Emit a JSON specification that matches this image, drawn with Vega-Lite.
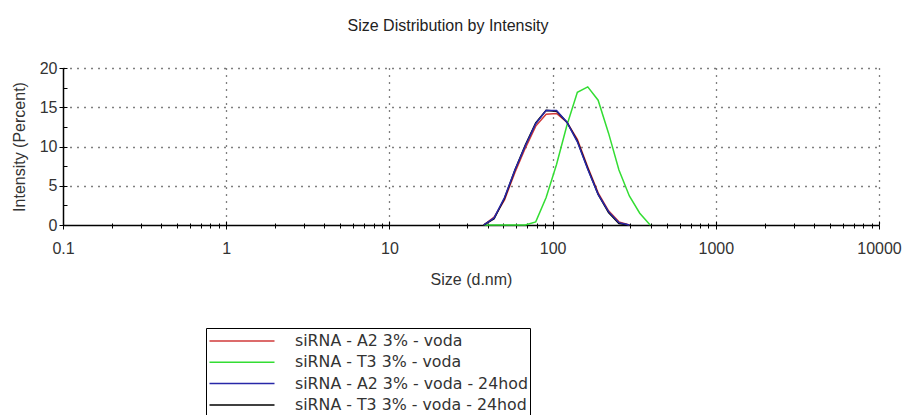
{
  "$schema": "https://vega.github.io/schema/vega-lite/v6.json",
  "autosize": "none",
  "width": 816,
  "height": 157,
  "padding": {"left": 63, "top": 68, "right": 25, "bottom": 190},
  "background": "white",
  "title": {
    "text": "Size Distribution by Intensity",
    "font": "Liberation Sans",
    "fontSize": 16,
    "fontWeight": "normal",
    "color": "#222",
    "anchor": "middle",
    "dx": -23,
    "offset": 13.5,
    "baseline": "alphabetic"
  },
  "config": {
    "view": {"stroke": null},
    "axis": {"labelFont": "Liberation Sans", "titleFont": "Liberation Sans", "labelColor": "#333", "titleColor": "#333", "labelFontSize": 16, "titleFontSize": 16, "titleFontWeight": "normal", "tickColor": "#000", "domainColor": "#000"}
  },
  "data": {
    "values": [
      {"series": "siRNA - A2 3% - voda", "size": 37.84, "pct": 0},
      {"series": "siRNA - A2 3% - voda", "size": 43.82, "pct": 1.0},
      {"series": "siRNA - A2 3% - voda", "size": 50.75, "pct": 3.2},
      {"series": "siRNA - A2 3% - voda", "size": 58.77, "pct": 6.7},
      {"series": "siRNA - A2 3% - voda", "size": 68.06, "pct": 9.8},
      {"series": "siRNA - A2 3% - voda", "size": 78.82, "pct": 12.6},
      {"series": "siRNA - A2 3% - voda", "size": 91.28, "pct": 14.1},
      {"series": "siRNA - A2 3% - voda", "size": 105.7, "pct": 14.2},
      {"series": "siRNA - A2 3% - voda", "size": 122.4, "pct": 13.1},
      {"series": "siRNA - A2 3% - voda", "size": 141.8, "pct": 10.9},
      {"series": "siRNA - A2 3% - voda", "size": 164.2, "pct": 7.4},
      {"series": "siRNA - A2 3% - voda", "size": 190.1, "pct": 4.1},
      {"series": "siRNA - A2 3% - voda", "size": 220.2, "pct": 1.8},
      {"series": "siRNA - A2 3% - voda", "size": 255.0, "pct": 0.4},
      {"series": "siRNA - A2 3% - voda", "size": 295.3, "pct": 0},
      {"series": "siRNA - T3 3% - voda", "size": 37.84, "pct": 0},
      {"series": "siRNA - T3 3% - voda", "size": 43.82, "pct": 0},
      {"series": "siRNA - T3 3% - voda", "size": 50.75, "pct": 0},
      {"series": "siRNA - T3 3% - voda", "size": 58.77, "pct": 0},
      {"series": "siRNA - T3 3% - voda", "size": 68.06, "pct": 0},
      {"series": "siRNA - T3 3% - voda", "size": 78.82, "pct": 0.4},
      {"series": "siRNA - T3 3% - voda", "size": 91.28, "pct": 3.5},
      {"series": "siRNA - T3 3% - voda", "size": 105.7, "pct": 7.7},
      {"series": "siRNA - T3 3% - voda", "size": 122.4, "pct": 12.7},
      {"series": "siRNA - T3 3% - voda", "size": 141.8, "pct": 16.9},
      {"series": "siRNA - T3 3% - voda", "size": 164.2, "pct": 17.6},
      {"series": "siRNA - T3 3% - voda", "size": 190.1, "pct": 15.9},
      {"series": "siRNA - T3 3% - voda", "size": 220.2, "pct": 11.7},
      {"series": "siRNA - T3 3% - voda", "size": 255.0, "pct": 7.0},
      {"series": "siRNA - T3 3% - voda", "size": 295.3, "pct": 3.7},
      {"series": "siRNA - T3 3% - voda", "size": 342.0, "pct": 1.5},
      {"series": "siRNA - T3 3% - voda", "size": 396.1, "pct": 0},
      {"series": "siRNA - T3 3% - voda - 24hod", "size": 37.84, "pct": 0},
      {"series": "siRNA - T3 3% - voda - 24hod", "size": 43.82, "pct": 0.8},
      {"series": "siRNA - T3 3% - voda - 24hod", "size": 50.75, "pct": 3.4},
      {"series": "siRNA - T3 3% - voda - 24hod", "size": 58.77, "pct": 7.0},
      {"series": "siRNA - T3 3% - voda - 24hod", "size": 68.06, "pct": 10.2},
      {"series": "siRNA - T3 3% - voda - 24hod", "size": 78.82, "pct": 13.0},
      {"series": "siRNA - T3 3% - voda - 24hod", "size": 91.28, "pct": 14.6},
      {"series": "siRNA - T3 3% - voda - 24hod", "size": 105.7, "pct": 14.5},
      {"series": "siRNA - T3 3% - voda - 24hod", "size": 122.4, "pct": 13.1},
      {"series": "siRNA - T3 3% - voda - 24hod", "size": 141.8, "pct": 10.7},
      {"series": "siRNA - T3 3% - voda - 24hod", "size": 164.2, "pct": 7.2},
      {"series": "siRNA - T3 3% - voda - 24hod", "size": 190.1, "pct": 3.9},
      {"series": "siRNA - T3 3% - voda - 24hod", "size": 220.2, "pct": 1.6},
      {"series": "siRNA - T3 3% - voda - 24hod", "size": 255.0, "pct": 0.2},
      {"series": "siRNA - T3 3% - voda - 24hod", "size": 295.3, "pct": 0},
      {"series": "siRNA - A2 3% - voda - 24hod", "size": 37.84, "pct": 0},
      {"series": "siRNA - A2 3% - voda - 24hod", "size": 43.82, "pct": 0.9},
      {"series": "siRNA - A2 3% - voda - 24hod", "size": 50.75, "pct": 3.5},
      {"series": "siRNA - A2 3% - voda - 24hod", "size": 58.77, "pct": 7.0},
      {"series": "siRNA - A2 3% - voda - 24hod", "size": 68.06, "pct": 10.1},
      {"series": "siRNA - A2 3% - voda - 24hod", "size": 78.82, "pct": 12.9},
      {"series": "siRNA - A2 3% - voda - 24hod", "size": 91.28, "pct": 14.6},
      {"series": "siRNA - A2 3% - voda - 24hod", "size": 105.7, "pct": 14.6},
      {"series": "siRNA - A2 3% - voda - 24hod", "size": 122.4, "pct": 13.1},
      {"series": "siRNA - A2 3% - voda - 24hod", "size": 141.8, "pct": 10.6},
      {"series": "siRNA - A2 3% - voda - 24hod", "size": 164.2, "pct": 7.1},
      {"series": "siRNA - A2 3% - voda - 24hod", "size": 190.1, "pct": 3.9},
      {"series": "siRNA - A2 3% - voda - 24hod", "size": 220.2, "pct": 1.7},
      {"series": "siRNA - A2 3% - voda - 24hod", "size": 255.0, "pct": 0.3},
      {"series": "siRNA - A2 3% - voda - 24hod", "size": 295.3, "pct": 0}
    ]
  },
  "resolve": {"axis": {"x": "independent", "y": "independent"}},
  "layer": [
    {
      "mark": {"type": "line", "strokeWidth": 1.5, "interpolate": "linear"},
      "encoding": {
        "x": {
          "field": "size", "type": "quantitative",
          "scale": {"type": "log", "domain": [0.1, 10000], "nice": false},
          "axis": {
            "orient": "bottom",
            "values": [0.1,0.2,0.3,0.4,0.5,0.6,0.7,0.8,0.9,1,2,3,4,5,6,7,8,9,10,20,30,40,50,60,70,80,90,100,200,300,400,500,600,700,800,900,1000,2000,3000,4000,5000,6000,7000,8000,9000,10000],
            "labelExpr": "abs(log(datum.value)/LN10 - round(log(datum.value)/LN10)) < 0.001 ? format(datum.value, '~g') : ''",
            "labelBaseline": "alphabetic",
            "labelPadding": 24,
            "labelFlush": false,
            "labelOverlap": false,
            "tickSize": {"condition": {"test": "abs(log(datum.value)/LN10 - round(log(datum.value)/LN10)) < 0.001", "value": 4}, "value": 3},
            "tickWidth": 1,
            "domainWidth": 1.5,
            "grid": true,
            "gridColor": "#000",
            "gridDash": [1, 6],
            "gridWidth": 1.3,
            "gridOpacity": {"condition": {"test": "datum.value > 0.5 && abs(log(datum.value)/LN10 - round(log(datum.value)/LN10)) < 0.001", "value": 1}, "value": 0},
            "title": "Size (d.nm)",
            "titleY": 59,
            "titleBaseline": "alphabetic"
          }
        },
        "y": {
          "field": "pct", "type": "quantitative",
          "scale": {"domain": [0, 20], "nice": false},
          "axis": {
            "orient": "left",
            "values": [0, 5, 10, 15, 20],
            "tickSize": 4,
            "tickWidth": 1,
            "labelPadding": 2,
            "domainWidth": 1.5,
            "grid": true,
            "gridColor": "#000",
            "gridDash": [1, 6],
            "gridWidth": 1.3,
            "gridOpacity": {"condition": {"test": "datum.value > 0", "value": 1}, "value": 0},
            "title": "Intensity (Percent)",
            "titleX": -44,
            "titleY": 78.5,
            "titleAngle": -90,
            "titleAlign": "center",
            "titleBaseline": "middle"
          }
        },
        "color": {
          "field": "series", "type": "nominal",
          "scale": {
            "domain": ["siRNA - A2 3% - voda", "siRNA - T3 3% - voda", "siRNA - A2 3% - voda - 24hod", "siRNA - T3 3% - voda - 24hod"],
            "range": ["#d03a3a", "#33dd33", "#2828a8", "#000000"]
          },
          "legend": {
            "orient": "none",
            "legendX": 143,
            "legendY": 260,
            "title": null,
            "symbolType": "M-3.25,0H3.25",
            "symbolSize": 400,
            "symbolStrokeWidth": 1.5,
            "labelFont": "DejaVu Sans",
            "labelFontSize": 15.8,
            "labelColor": "#333",
            "labelLimit": 400,
            "padding": 2,
            "rowPadding": 2.3,
            "symbolOffset": 23,
            "labelOffset": 42,
            "strokeColor": "#000",
            "fillColor": "white"
          }
        }
      }
    },
    {
      "mark": {"type": "line", "opacity": 0},
      "encoding": {
        "x": {
          "field": "size", "type": "quantitative",
          "axis": {
            "orient": "bottom",
            "values": [0.1,0.2,0.3,0.4,0.5,0.6,0.7,0.8,0.9,1,2,3,4,5,6,7,8,9,10,20,30,40,50,60,70,80,90,100,200,300,400,500,600,700,800,900,1000,2000,3000,4000,5000,6000,7000,8000,9000,10000],
            "labels": false,
            "domain": false,
            "grid": false,
            "tickSize": {"condition": {"test": "abs(log(datum.value)/LN10 - round(log(datum.value)/LN10)) < 0.001", "value": -4}, "value": -2},
            "tickWidth": 1,
            "title": null
          }
        },
        "y": {
          "field": "pct", "type": "quantitative",
          "axis": {
            "orient": "left",
            "values": [0, 2.5, 5, 7.5, 10, 12.5, 15, 17.5, 20],
            "labels": false,
            "domain": false,
            "grid": false,
            "tickSize": -4,
            "tickWidth": 1,
            "title": null
          }
        }
      }
    }
  ]
}
